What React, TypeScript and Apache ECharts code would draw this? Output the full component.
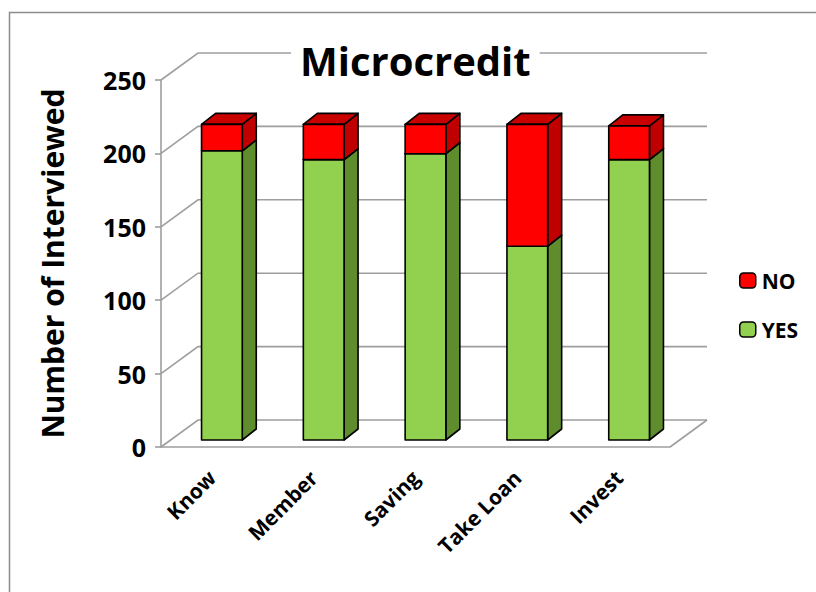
import React, { useEffect, useRef } from "react";
import * as echarts from "echarts";

// Survey answers per question
const categories = ["Know", "Member", "Saving", "Take Loan", "Invest"];
const yesValues = [197, 191, 195, 132, 191];
const noValues = [18, 24, 20, 83, 23];
const yTicks = [0, 50, 100, 150, 200, 250];

// Pseudo-3D geometry (pixels)
const WALL_DX = 37;
const WALL_DY = -27;
const BAR_SHIFT_X = 10;
const BAR_SHIFT_Y = -7;
const BAR_DX = 14;
const BAR_DY = -11;

const FONT = "'Open Sans', 'Liberation Sans', sans-serif";
const GRID_COLOR = "#9E9E9E";

function makeBarRenderer(front: string, side: string, top: string) {
  return (params: any, api: any) => {
    const idx = api.value(0);
    const lo = api.value(1);
    const hi = api.value(2);
    const p0 = api.coord([idx, lo]);
    const p1 = api.coord([idx, hi]);
    const band = api.size([1, 0])[0];
    const w = band * 0.4;
    const x0 = p0[0] - w / 2 + BAR_SHIFT_X;
    const x1 = x0 + w;
    const yb = p0[1] + BAR_SHIFT_Y;
    const yt = p1[1] + BAR_SHIFT_Y;
    const stroke = { stroke: "#000", lineWidth: 1.6, lineJoin: "round" };
    return {
      type: "group",
      children: [
        {
          type: "polygon",
          shape: {
            points: [
              [x1, yb],
              [x1 + BAR_DX, yb + BAR_DY],
              [x1 + BAR_DX, yt + BAR_DY],
              [x1, yt],
            ],
          },
          style: { fill: side, ...stroke },
        },
        {
          type: "polygon",
          shape: {
            points: [
              [x0, yt],
              [x0 + BAR_DX, yt + BAR_DY],
              [x1 + BAR_DX, yt + BAR_DY],
              [x1, yt],
            ],
          },
          style: { fill: top, ...stroke },
        },
        {
          type: "rect",
          shape: { x: x0, y: yt, width: w, height: yb - yt },
          style: { fill: front, ...stroke },
        },
      ],
    };
  };
}

function renderWall(params: any, api: any) {
  const cs = params.coordSys;
  const v = api.value(1);
  const y = api.coord([0, v])[1];
  const lineStyle = { stroke: GRID_COLOR, lineWidth: 1.6, fill: null };
  const children: any[] = [
    {
      type: "polyline",
      shape: {
        points: [
          [cs.x, y],
          [cs.x + WALL_DX, y + WALL_DY],
          [cs.x + cs.width + WALL_DX, y + WALL_DY],
        ],
      },
      style: lineStyle,
    },
  ];
  if (v === 0) {
    children.push({
      type: "line",
      shape: {
        x1: cs.x + cs.width,
        y1: y,
        x2: cs.x + cs.width + WALL_DX,
        y2: y + WALL_DY,
      },
      style: lineStyle,
    });
  }
  return { type: "group", children };
}

export default function App() {
  const ref = useRef<HTMLDivElement>(null);

  useEffect(() => {
    if (!ref.current) return;
    const chart = echarts.init(ref.current, undefined, { renderer: "svg" });
    const yesData = categories.map((_, i) => [i, 0, yesValues[i]]);
    const noData = categories.map((_, i) => [
      i,
      yesValues[i],
      yesValues[i] + noValues[i],
    ]);
    const wallData = yTicks.map((t) => [0, t]);

    chart.setOption({
      animation: false,
      backgroundColor: "#fff",
      graphic: [
        {
          type: "rect",
          shape: { x: 9.5, y: 12.5, width: 900, height: 700 },
          style: { fill: "none", stroke: "#8C8C8C", lineWidth: 1.5 },
          z: 0,
        },
      ],
      title: {
        text: "Microcredit",
        left: 291,
        top: 40,
        padding: [0, 9],
        backgroundColor: "#fff",
        textStyle: {
          fontFamily: FONT,
          fontWeight: "bold",
          fontSize: 40,
          color: "#000",
        },
      },
      legend: {
        orient: "vertical",
        left: 739,
        top: 270,
        padding: 0,
        itemWidth: 16,
        itemHeight: 15,
        itemGap: 28,
        data: ["NO", "YES"],
        itemStyle: { borderColor: "#000", borderWidth: 1.5 },
        textStyle: {
          fontFamily: FONT,
          fontWeight: "bold",
          fontSize: 21,
          color: "#000",
          padding: [0, 0, 0, 1],
        },
      },
      grid: { left: 161, right: 146, top: 80, bottom: 145 },
      xAxis: {
        type: "category",
        data: categories,
        axisLine: { lineStyle: { color: GRID_COLOR, width: 1.6 } },
        axisTick: { length: 6, lineStyle: { color: GRID_COLOR, width: 1.6 } },
        axisLabel: {
          rotate: 45,
          interval: 0,
          margin: 27,
          fontFamily: FONT,
          fontWeight: "bold",
          fontSize: 21,
          color: "#000",
        },
      },
      yAxis: {
        type: "value",
        min: 0,
        max: 250,
        interval: 50,
        name: "Number of Interviewed",
        nameLocation: "middle",
        nameGap: 94,
        nameTextStyle: {
          fontFamily: FONT,
          fontWeight: "bold",
          fontSize: 30,
          color: "#000",
        },
        axisLine: { show: true, lineStyle: { color: GRID_COLOR, width: 1.6 } },
        axisTick: { show: true, length: 6, lineStyle: { color: GRID_COLOR, width: 1.6 } },
        splitLine: { show: false },
        axisLabel: {
          margin: 15,
          fontFamily: FONT,
          fontWeight: "bold",
          fontSize: 25,
          color: "#000",
        },
      },
      series: [
        {
          name: "wall",
          type: "custom",
          renderItem: renderWall,
          data: wallData,
          encode: { x: 0, y: 1 },
          clip: false,
          silent: true,
          z: 1,
        },
        {
          name: "YES",
          type: "custom",
          renderItem: makeBarRenderer("#92D050", "#5F8C2C", "#7AB33E"),
          data: yesData,
          encode: { x: 0, y: [1, 2] },
          itemStyle: { color: "#92D050" },
          clip: false,
          z: 3,
        },
        {
          name: "NO",
          type: "custom",
          renderItem: makeBarRenderer("#FF0000", "#C00000", "#C80000"),
          data: noData,
          encode: { x: 0, y: [1, 2] },
          itemStyle: { color: "#FF0000" },
          clip: false,
          z: 4,
        },
      ],
    });

    return () => chart.dispose();
  }, []);

  return (
    <div
      ref={ref}
      style={{ position: "fixed", left: 0, top: 0, width: 816, height: 592 }}
    />
  );
}
